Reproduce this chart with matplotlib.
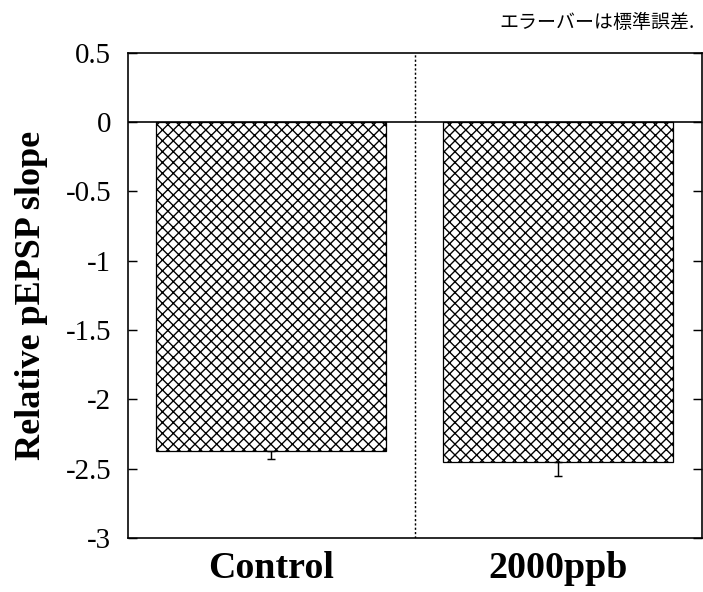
import numpy as np
import matplotlib
matplotlib.use('Agg')
import matplotlib.pyplot as plt

# data
groups = ['Control', '2000ppb']
means = [-2.373, -2.450]
sem = [0.058, 0.106]
yticks = [0.5, 0, -0.5, -1, -1.5, -2, -2.5, -3]
ytick_labels = ['0.5', '0', '-0.5', '-1', '-1.5', '-2', '-2.5', '-3']

dpi = 130
plt.rcParams['hatch.linewidth'] = 0.75
plt.rcParams['hatch.color'] = 'black'

fig = plt.figure(figsize=(703 / dpi, 592 / dpi), dpi=dpi)
ax = fig.add_axes([0.1814, 0.0912, 0.8172, 0.8198])

x = np.arange(len(groups))
ax.bar(x, means, width=0.8, color='white', edgecolor='black',
       linewidth=0.7, hatch='xxxx', zorder=2)
# one-sided error bars (downwards only)
ax.errorbar(x, means, yerr=[sem, [0] * len(sem)], fmt='none',
            ecolor='black', elinewidth=0.8, capsize=2, capthick=0.8, zorder=3)

ax.axhline(0, color='black', linewidth=0.9, zorder=4)
ax.axvline(0.5, color='black', linewidth=0.8, linestyle=(0, (1.5, 1.5)), zorder=1)

ax.set_xlim(-0.5, 1.5)
ax.set_ylim(-3, 0.5)
ax.set_xticks(x)
ax.set_xticklabels(groups, family='Liberation Serif', fontweight='bold', fontsize=21)
ax.set_yticks(yticks)
ax.set_yticklabels(ytick_labels, family='Liberation Serif', fontsize=16)
ax.tick_params(axis='x', length=0, pad=7)
ax.tick_params(axis='y', direction='in', length=5, width=0.8, right=True, pad=9)

for s in ax.spines.values():
    s.set_linewidth(0.9)

ax.set_ylabel('Relative pEPSP slope', family='Liberation Serif',
              fontweight='bold', fontsize=20, labelpad=10)

fig.text(0.988, 0.962, 'エラーバーは標準誤差.', ha='right', va='center',
         family=['Noto Sans CJK JP', 'DejaVu Sans'], fontsize=10.5)

fig.savefig('out.png', dpi=dpi)
